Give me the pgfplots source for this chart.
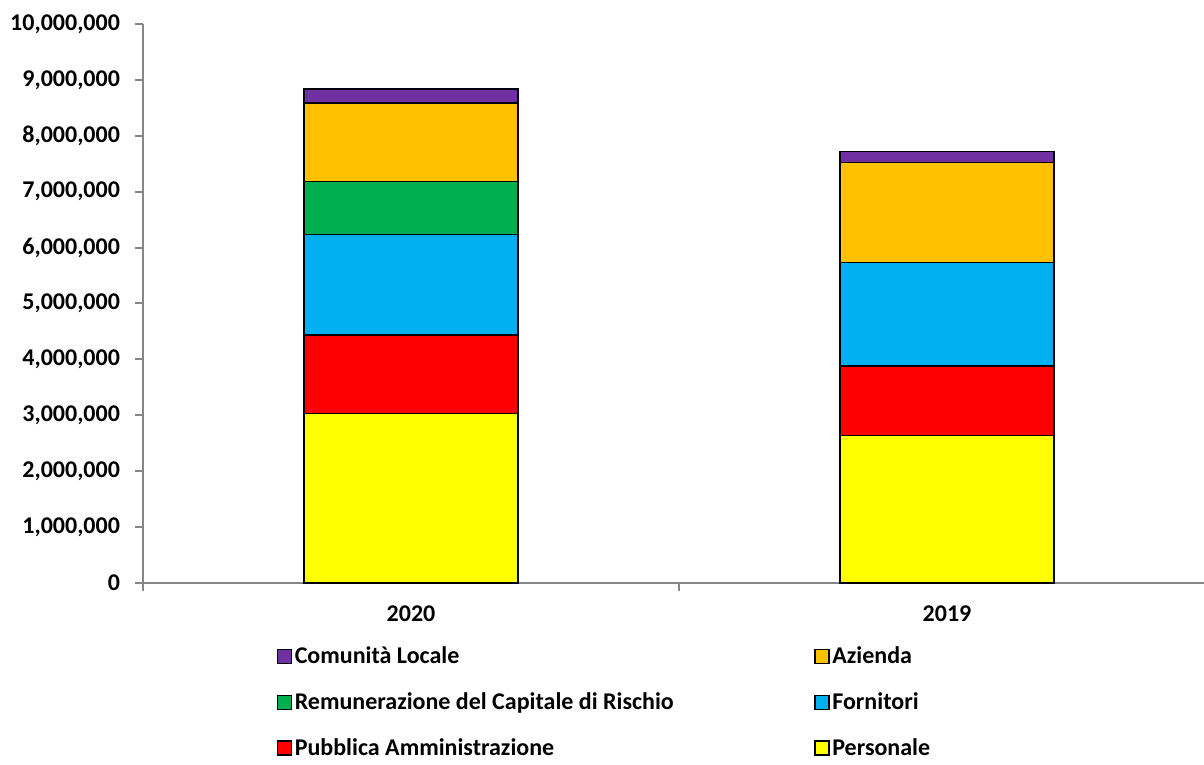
\documentclass[border=0pt]{standalone}
\usepackage{pgfplots}
\pgfplotsset{compat=1.18}
\usepackage{fontspec}
\setmainfont{Carlito}

\definecolor{cPers}{HTML}{FFFF00}
\definecolor{cPA}{HTML}{FF0000}
\definecolor{cForn}{HTML}{00B0F0}
\definecolor{cRem}{HTML}{00B050}
\definecolor{cAz}{HTML}{FFC000}
\definecolor{cCom}{HTML}{7030A0}
\definecolor{axgray}{HTML}{868686}

\begin{document}
\begin{tikzpicture}
\begin{axis}[
  name=ax,
  scale only axis,
  width=530.5pt, height=279.5pt,
  ybar stacked, bar width=107pt,
  xmin=-0.5, xmax=1.4795,
  ymin=0, ymax=10000000,
  axis x line=bottom, axis y line=left,
  axis line style={-, draw=axgray, line width=1pt},
  xtick={0,1}, xticklabels={2020,2019},
  minor xtick={-0.5,0.5,1.5},
  major x tick style={draw=none},
  minor x tick style={draw=axgray, line width=1pt},
  ytick={0,1000000,2000000,3000000,4000000,5000000,6000000,7000000,8000000,9000000,10000000},
  y tick style={draw=axgray, line width=1pt},
  tick align=outside,
  major tick length=4pt, minor tick length=4pt,
  scaled y ticks=false,
  yticklabel style={xshift=-4pt, /pgf/number format/.cd, fixed, 1000 sep={,}},
  xticklabel style={yshift=-4pt},
  /pgf/number format/assume math mode=true,
  ticklabel style={font=\bfseries\fontsize{12}{14}\selectfont},
  reverse legend,
  legend columns=2,
  legend image code/.code={\draw[#1, line width=0.75pt] (0pt,-3.5pt) rectangle (7pt,3.5pt);},
  legend style={
    at={(0,0)}, anchor=north west, xshift=66.7pt, yshift=-30.3pt,
    draw=none, fill=none, inner sep=0pt,
    font=\bfseries\fontsize{12}{14}\selectfont,
    nodes={inner sep=1.25pt},
    row sep=10.5pt,
    /tikz/every even column/.append style={column sep=69pt},
  },
  legend cell align=left,
]
\addplot[fill=cPers, draw=black, line width=0.75pt] coordinates {(0,3030000) (1,2635000)};
\addplot[fill=cPA, draw=black, line width=0.75pt] coordinates {(0,1405000) (1,1247000)};
\addplot[fill=cForn, draw=black, line width=0.75pt] coordinates {(0,1795000) (1,1855000)};
\addplot[fill=cRem, draw=black, line width=0.75pt] coordinates {(0,950000) (1,0)};
\addplot[fill=cAz, draw=black, line width=0.75pt] coordinates {(0,1410000) (1,1782000)};
\addplot[fill=cCom, draw=black, line width=0.75pt] coordinates {(0,250000) (1,197000)};
\legend{Personale, Pubblica Amministrazione, Fornitori, Remunerazione del Capitale di Rischio, Azienda, Comunità Locale}
\end{axis}
\pgfresetboundingbox
\path ([shift={(-71.5pt,-91pt)}]ax.south west) rectangle ([shift={(0pt,12pt)}]ax.north east);
\end{tikzpicture}
\end{document}
